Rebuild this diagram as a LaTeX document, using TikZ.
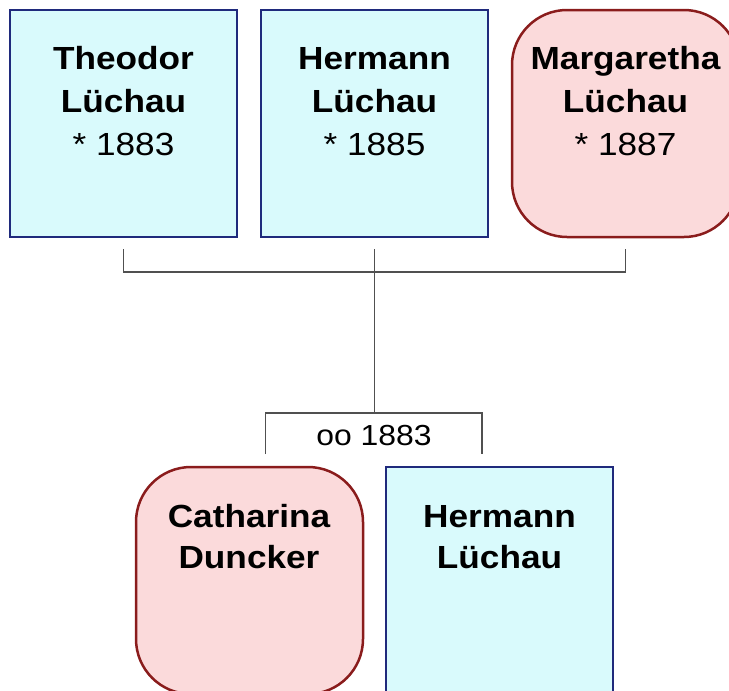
\documentclass[tikz,border=0pt]{standalone}
\usepackage{fontspec}
\setmainfont{Liberation Sans}[FakeStretch=1.1]
\usetikzlibrary{calc}
\definecolor{mfill}{HTML}{D9FAFC}
\definecolor{mline}{HTML}{1F2A7C}
\definecolor{ffill}{HTML}{FBDADB}
\definecolor{fline}{HTML}{8A1C1C}
\definecolor{connc}{HTML}{505050}
\begin{document}
\begin{tikzpicture}[x=1pt,y=-1pt,
  male/.style={draw=mline,fill=mfill,line width=2.5pt,minimum width=227pt,
    minimum height=227pt,inner sep=0pt,outer sep=0pt,anchor=north west},
  female/.style={male,draw=fline,fill=ffill,rounded corners=55pt},
  nm/.style={anchor=base,inner sep=0pt,font=\fontsize{32}{38}\selectfont\bfseries},
  yr/.style={anchor=base,inner sep=0pt,font=\fontsize{32}{38}\selectfont},
  wed/.style={anchor=base,inner sep=0pt,font=\fontsize{29}{34}\selectfont},
  link/.style={draw=connc,line width=1.5pt}]
\useasboundingbox (0,0) rectangle (729,691);
\clip (0,0) rectangle (729,691);

% children of the family
\node[male]   (theo) at (10,10)  {};
\node[male]   (herm) at (261,10) {};
\node[female] (marg) at (512,10) {};
\node[nm] (theoA) at (123.5,69)  {Theodor};
\node[nm] (theoB) at (123.5,112) {Lüchau};
\node[yr] (theoC) at (123.5,155) {* 1883};
\node[nm] (hermA) at (374.5,69)  {Hermann};
\node[nm] (hermB) at (374.5,112) {Lüchau};
\node[yr] (hermC) at (374.5,155) {* 1885};
\node[nm] (margA) at (625.5,69)  {Margaretha};
\node[nm] (margB) at (625.5,112) {Lüchau};
\node[yr] (margC) at (625.5,155) {* 1887};

% parents
\node[female] (cath) at (136,467) {};
\node[male]   (father) at (386,467) {};
\node[nm] (cathA) at (249,527) {Catharina};
\node[nm] (cathB) at (249,568) {Duncker};
\node[nm] (fatherA) at (499.5,527) {Hermann};
\node[nm] (fatherB) at (499.5,568) {Lüchau};
\node[wed] (oo) at (374,445.5) {oo 1883};

% sibling bracket
\coordinate (s1) at ($(theo.south)+(0,12)$);
\coordinate (s2) at ($(herm.south)+(0,12)$);
\coordinate (s3) at ($(marg.south)+(0,12)$);
\draw[link] (s1) -- ++(0,23) -| (s3);

% marriage bracket
\coordinate (w1) at (265.5,454);
\coordinate (w2) at (482,454);
\coordinate (wt) at (s2 |- 0,413);
\draw[link] (w1) -- ++(0,-41) -| (w2);
\draw[link] (s2) -- (wt);
\end{tikzpicture}
\end{document}
